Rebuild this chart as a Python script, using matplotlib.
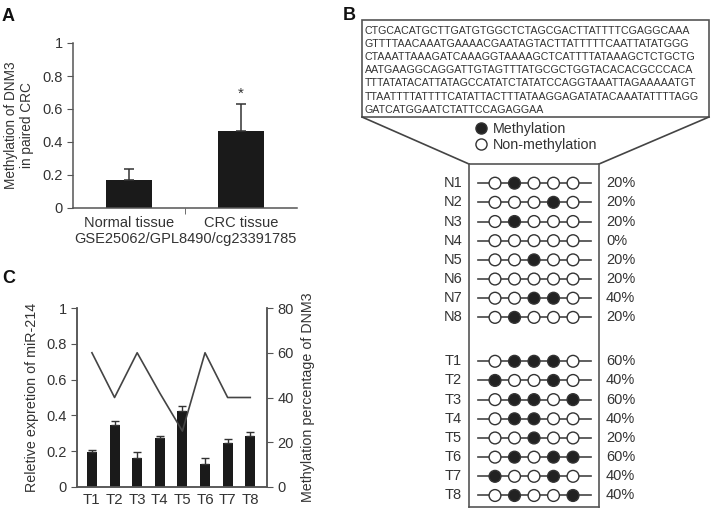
import numpy as np
import matplotlib
matplotlib.use("Agg")
import matplotlib.pyplot as plt
from matplotlib.lines import Line2D
from matplotlib.patches import Rectangle

plt.rcParams.update({
    "font.family": ["Liberation Sans", "DejaVu Sans"],
    "font.size": 10,
    "text.color": "#333333",
    "axes.labelcolor": "#333333",
    "axes.edgecolor": "#555555",
    "xtick.color": "#555555",
    "ytick.color": "#555555",
    "xtick.labelcolor": "#333333",
    "ytick.labelcolor": "#333333",
    "axes.linewidth": 1.1,
})

# ---- data ----
# panel A
groups_a = ["Normal tissue", "CRC tissue"]
meth_a = [0.17, 0.465]
err_a = [0.065, 0.165]

# panel C
samples_c = ["T1", "T2", "T3", "T4", "T5", "T6", "T7", "T8"]
mir214 = [0.197, 0.347, 0.161, 0.276, 0.426, 0.130, 0.248, 0.284]
mir214_err = [0.011, 0.021, 0.034, 0.011, 0.028, 0.030, 0.022, 0.024]
meth_pct_line = [60, 40, 60, 42, 25, 60, 40, 40]

# panel B
sequence = [
    "CTGCACATGCTTGATGTGGCTCTAGCGACTTATTTTCGAGGCAAA",
    "GTTTTAACAAATGAAAACGAATAGTACTTATTTTTCAATTATATGGG",
    "CTAAATTAAAGATCAAAGGTAAAAGCTCATTTTATAAAGCTCTGCTG",
    "AATGAAGGCAGGATTGTAGTTTATGCGCTGGTACACACGCCCACA",
    "TTTATATACATTATAGCCATATCTATATCCAGGTAAATTAGAAAAATGT",
    "TTAATTTTATTTTCATATTACTTTATAAGGAGATATACAAATATTTTAGG",
    "GATCATGGAATCTATTCCAGAGGAA",
]
normal_rows = ["N1", "N2", "N3", "N4", "N5", "N6", "N7", "N8"]
tumor_rows = ["T1", "T2", "T3", "T4", "T5", "T6", "T7", "T8"]
normal_sites = [
    [0, 1, 0, 0, 0],
    [0, 0, 0, 1, 0],
    [0, 1, 0, 0, 0],
    [0, 0, 0, 0, 0],
    [0, 0, 1, 0, 0],
    [0, 0, 0, 0, 0],
    [0, 0, 1, 1, 0],
    [0, 1, 0, 0, 0],
]
tumor_sites = [
    [0, 1, 1, 1, 0],
    [1, 0, 0, 1, 0],
    [0, 1, 1, 0, 1],
    [0, 1, 1, 0, 0],
    [0, 0, 1, 0, 0],
    [0, 1, 0, 1, 1],
    [1, 0, 0, 1, 0],
    [0, 1, 0, 0, 1],
]
normal_pct = ["20%", "20%", "20%", "0%", "20%", "20%", "40%", "20%"]
tumor_pct = ["60%", "40%", "60%", "40%", "20%", "60%", "40%", "40%"]

W, H = 711, 508
fig = plt.figure(figsize=(W / 100, H / 100), dpi=100)


def px_axes(x0, y0, x1, y1):
    # rectangle given in pixels from top-left
    return fig.add_axes([x0 / W, 1 - y1 / H, (x1 - x0) / W, (y1 - y0) / H])


bar_color = "#1a1a1a"

# ---- panel A ----
axA = px_axes(73, 43, 297, 208)
xa = np.arange(len(groups_a))
axA.bar(xa, meth_a, width=0.41, color=bar_color)
axA.errorbar(xa, meth_a, yerr=[np.zeros(2), err_a], fmt="none",
             ecolor="#333333", elinewidth=1.1, capsize=3.5, capthick=1.1)
axA.text(1, meth_a[1] + err_a[1] + 0.02, "*", ha="center", va="bottom", fontsize=11)
axA.set_xlim(-0.5, 1.5)
axA.set_ylim(0, 1)
axA.set_yticks([0, 0.2, 0.4, 0.6, 0.8, 1])
axA.set_yticklabels(["0", "0.2", "0.4", "0.6", "0.8", "1"])
axA.set_xticks(xa)
axA.set_xticklabels(groups_a, fontsize=10.5)
axA.set_xticks([0.5], minor=True)
axA.tick_params(axis="x", which="major", length=0, pad=6)
axA.tick_params(axis="x", which="minor", length=4, direction="out")
axA.tick_params(axis="y", length=4, direction="out", labelsize=10.5)
axA.spines[["top", "right"]].set_visible(False)
axA.set_ylabel("Methylation of DNM3\nin paired CRC", fontsize=9.8, labelpad=6)
axA.set_xlabel("GSE25062/GPL8490/cg23391785", fontsize=10.5, labelpad=1)

# ---- panel C ----
axC = px_axes(77, 308, 267, 487)
xc = np.arange(len(samples_c))
axC.bar(xc, mir214, width=0.44, color=bar_color)
axC.errorbar(xc, mir214, yerr=[np.zeros(len(xc)), mir214_err], fmt="none",
             ecolor="#333333", elinewidth=1.0, capsize=3, capthick=1.0)
axC.set_xlim(-0.66, 7.74)
axC.set_ylim(0, 1)
axC.set_yticks([0, 0.2, 0.4, 0.6, 0.8, 1])
axC.set_yticklabels(["0", "0.2", "0.4", "0.6", "0.8", "1"])
axC.set_xticks(xc)
axC.set_xticklabels(samples_c, fontsize=10.8)
axC.tick_params(axis="x", length=0, pad=4)
axC.tick_params(axis="y", length=4, direction="out", labelsize=10.5)
axC.spines["top"].set_visible(False)
axC.set_ylabel("Reletive expretion of miR-214", fontsize=10.3, labelpad=5)

axC2 = axC.twinx()
axC2.plot(xc, meth_pct_line, color="#444444", lw=1.2)
axC2.set_ylim(0, 80)
axC2.set_yticks([0, 20, 40, 60, 80])
axC2.tick_params(axis="y", length=4, direction="out", labelsize=10.5)
axC2.spines["top"].set_visible(False)
axC2.set_ylabel("Methylation percentage of DNM3", fontsize=10.3, labelpad=5)

# ---- panel B ----
axD = px_axes(469, 164, 599, 507)
row_y_n = np.arange(8)
row_y_t = np.arange(8) + 9.29
sites = np.arange(5)
for rows, ys, pat, pct in [(normal_rows, row_y_n, normal_sites, normal_pct),
                           (tumor_rows, row_y_t, tumor_sites, tumor_pct)]:
    for name, y, p, lab in zip(rows, ys, pat, pct):
        axD.plot([-0.87, 4.92], [y, y], color="#444444", lw=1.2, zorder=1)
        face = ["#222222" if v else "white" for v in p]
        axD.scatter(sites, np.full(5, y), s=72, c=face, edgecolors="#333333",
                    linewidths=1.0, zorder=2)
        axD.text(-1.69, y, name, ha="right", va="center", fontsize=10.5, clip_on=False)
        axD.text(5.69, y, lab, ha="left", va="center", fontsize=10.5, clip_on=False)
axD.set_xlim(-1.333, 5.333)
axD.set_ylim(16.89, -1.0)
axD.set_xticks([])
axD.set_yticks([])
for s in axD.spines.values():
    s.set_color("#555555")
    s.set_linewidth(1.2)

# overlay for sequence box, connector and legend (pixel coords)
axO = fig.add_axes([0, 0, 1, 1], zorder=-1)
axO.set_xlim(0, W)
axO.set_ylim(H, 0)
axO.axis("off")
axO.add_patch(Rectangle((362, 20), 347, 97, fill=False, ec="#555555", lw=1.2))
for i, line in enumerate(sequence):
    axO.text(364.5, 31 + i * 13.1, line, ha="left", va="center", fontsize=7.7,
             color="#333333")
axO.plot([362, 469], [117, 164], color="#444444", lw=1.2)
axO.plot([709, 599], [117, 164], color="#444444", lw=1.2)
handles = [
    Line2D([], [], ls="none", marker="o", ms=8, mfc="#222222", mec="#333333"),
    Line2D([], [], ls="none", marker="o", ms=8, mfc="white", mec="#333333"),
]
axO.legend(handles, ["Methylation", "Non-methylation"], loc="upper left",
           bbox_to_anchor=(474, 122), bbox_transform=axO.transData,
           frameon=False, fontsize=10.3, handlelength=1.0, handletextpad=0.3,
           labelspacing=0.15, borderpad=0, borderaxespad=0)

# panel letters
fig.text(2 / W, 1 - 8 / H, "A", fontsize=13, fontweight="bold", va="top", color="#111111")
fig.text(343 / W, 1 - 7 / H, "B", fontsize=13, fontweight="bold", va="top", color="#111111")
fig.text(2 / W, 1 - 270 / H, "C", fontsize=13, fontweight="bold", va="top", color="#111111")

fig.savefig("out.png", dpi=100)
